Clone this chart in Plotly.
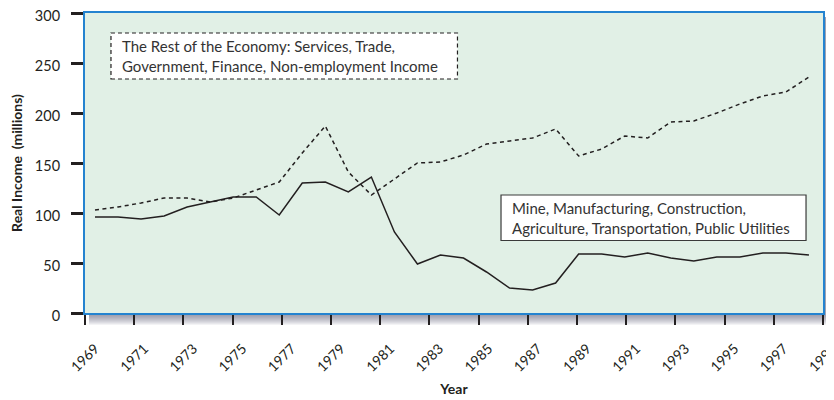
import numpy as np
import plotly.graph_objects as go

years = list(range(1969, 2001))
rest_economy = [103, 106, 110, 115, 115, 111, 115, 123, 131, 160, 187, 141, 118, 134, 150, 151,
                158, 169, 172, 175, 184, 157, 164, 177, 175, 191, 192, 200, 209, 217, 221, 236]
goods_sector = [96, 96, 94, 97, 106, 111, 116, 116, 98, 130, 131, 121, 136, 81, 49, 58,
                55, 41, 25, 23, 30, 59, 59, 56, 60, 55, 52, 56, 56, 60, 60, 58]
tick_labels = [str(y) for y in range(1969, 2000, 2)]
y_ticks = [0, 50, 100, 150, 200, 250, 300]

label_rest = "The Rest of the Economy: Services, Trade,<br>Government, Finance, Non-employment Income"
label_goods = "Mine, Manufacturing, Construction,<br>Agriculture, Transportation, Public Utilities"

FONT = "Lato"
INK = "#231f20"

# x-axis range so that the first point sits slightly inside the frame
x_lo = 1968.566
x_hi = 2000.61
tick_pos = list(np.linspace(x_lo, x_hi, len(tick_labels)))

fig = go.Figure()
fig.add_trace(go.Scatter(x=years, y=rest_economy, mode="lines",
                         line=dict(color=INK, width=1.5, dash="4px,3.5px"),
                         showlegend=False, hoverinfo="skip"))
fig.add_trace(go.Scatter(x=years, y=goods_sector, mode="lines",
                         line=dict(color=INK, width=1.5),
                         showlegend=False, hoverinfo="skip"))

shapes = []
# drop shadow behind the plot frame
W, H = 738.0, 300.0
for k in range(1, 13):
    shapes.append(dict(type="rect", xref="paper", yref="paper", layer="below",
                       x0=4 / W, x1=1 + k / W, y0=-k / H, y1=1 - 4 / H,
                       line=dict(width=0), fillcolor="rgba(70,75,110,0.065)"))
# plot panel fill
shapes.append(dict(type="rect", xref="paper", yref="paper", layer="below",
                   x0=0, x1=1, y0=0, y1=1, line=dict(width=0), fillcolor="#e1f0e6"))
# dashed label box
shapes.append(dict(type="rect", xref="paper", yref="paper",
                   x0=0.0352, x1=0.5047, y0=0.78, y1=0.9333,
                   line=dict(color=INK, width=1.2, dash="4px,3px"), fillcolor="white"))
# solid label box
shapes.append(dict(type="rect", xref="paper", yref="paper",
                   x0=0.5637, x1=0.977, y0=0.2417, y1=0.3933,
                   line=dict(color="#3a3a3a", width=1.2), fillcolor="white"))

annotations = [
    dict(xref="paper", yref="paper", x=0.0475, y=0.8567, xanchor="left", yanchor="middle",
         text=label_rest, showarrow=False, align="left",
         font=dict(family=FONT, size=15, color="#333333")),
    dict(xref="paper", yref="paper", x=0.5765, y=0.3175, xanchor="left", yanchor="middle",
         text=label_goods, showarrow=False, align="left",
         font=dict(family=FONT, size=15, color="#333333")),
]

# the page body adds an 8px offset, so the figure is 8px smaller than the window
fig.update_layout(
    width=826, height=392,
    margin=dict(l=77, r=11, t=5, b=87),
    paper_bgcolor="white",
    plot_bgcolor="rgba(0,0,0,0)",
    shapes=shapes,
    annotations=annotations,
    font=dict(family=FONT, color=INK),
    xaxis=dict(range=[x_lo, x_hi], tickmode="array", tickvals=tick_pos, ticktext=tick_labels,
               tickangle=-45, ticks="outside", ticklen=10, tickwidth=2, tickcolor=INK,
               showline=True, linecolor="#2483d0", linewidth=2, mirror=True,
               showgrid=False, zeroline=False, tickfont=dict(size=14, color=INK),
               ticklabelshift=10, ticklabelstandoff=10, ticklabeloverflow="allow",
               automargin=False,
               title=dict(text="<b>Year</b>", font=dict(size=14, color=INK), standoff=10)),
    yaxis=dict(range=[0, 300], tickmode="array", tickvals=y_ticks,
               ticks="outside", ticklen=12, tickwidth=2.5, tickcolor=INK,
               showline=True, linecolor="#2483d0", linewidth=2, mirror=True,
               showgrid=False, zeroline=False, tickfont=dict(size=14.5, color=INK),
               ticklabelstandoff=8, ticklabelshift=3, ticklabeloverflow="allow", automargin=False,
               title=dict(text="<b>Real Income\u00a0 (millions)</b>", font=dict(size=14, color=INK),
                          standoff=11)),
)

fig.write_html("out.html")
